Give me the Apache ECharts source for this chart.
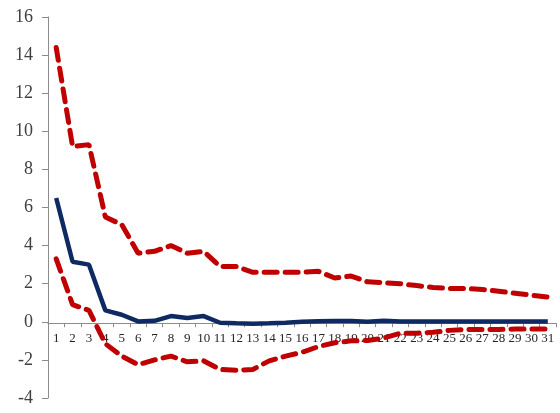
<!DOCTYPE html>
<html>
<head>
<meta charset="utf-8">
<script src="https://cdn.jsdelivr.net/npm/echarts@6/dist/echarts.min.js"></script>
<style>
  html, body { margin: 0; padding: 0; background: #fff; }
  #chart { width: 560px; height: 413px; }
</style>
</head>
<body>
<div id="chart"></div>
<script>
// Horizons 1..31
const periods = Array.from({ length: 31 }, (_, i) => String(i + 1));

// Point response
const response = [6.5, 3.15, 3.0, 0.6, 0.37, 0.02, 0.05, 0.3, 0.2, 0.3,
  -0.05, -0.08, -0.1, -0.08, -0.05, 0.0, 0.03, 0.04, 0.04, 0.0,
  0.05, 0.02, 0.02, 0.02, 0.02, 0.02, 0.02, 0.02, 0.02, 0.02, 0.02];

// Upper confidence band
const upperBand = [14.4, 9.2, 9.3, 5.5, 5.1, 3.6, 3.7, 4.0, 3.6, 3.7,
  2.9, 2.9, 2.6, 2.6, 2.6, 2.6, 2.65, 2.3, 2.4, 2.1,
  2.05, 2.0, 1.9, 1.8, 1.75, 1.75, 1.7, 1.6, 1.5, 1.4, 1.3];

// Lower confidence band
const lowerBand = [3.3, 0.9, 0.6, -1.15, -1.8, -2.25, -2.0, -1.8, -2.1, -2.05,
  -2.5, -2.55, -2.5, -2.05, -1.8, -1.6, -1.3, -1.1, -1.0, -0.98,
  -0.85, -0.6, -0.6, -0.55, -0.45, -0.4, -0.4, -0.4, -0.38, -0.38, -0.38];

// Value axis ticks
const yMin = -4, yMax = 16, yStep = 2;

const gridTop = 17, gridBottom = 15;

const chart = echarts.init(document.getElementById('chart'), null, { renderer: 'canvas' });

const bandStyle = { color: '#C00000', width: 5, type: [13, 8], cap: 'round' };

chart.setOption({
  animation: false,
  backgroundColor: '#ffffff',
  grid: { left: 48, right: 4, top: gridTop, bottom: gridBottom },
  xAxis: {
    type: 'category',
    data: periods,
    position: 'bottom',
    offset: 0,
    boundaryGap: true,
    axisLine: { onZero: false, lineStyle: { color: '#8c8c8c', width: 1 } },
    axisTick: { show: true, alignWithLabel: false, length: 4, lineStyle: { color: '#8c8c8c' } },
    axisLabel: {
      interval: 0, margin: 9,
      fontFamily: 'Liberation Serif, DejaVu Serif, serif',
      fontSize: 13, color: '#262626'
    },
    splitLine: { show: false }
  },
  yAxis: {
    type: 'value',
    min: yMin, max: yMax, interval: yStep,
    axisLine: { show: true, lineStyle: { color: '#8c8c8c', width: 1 } },
    axisTick: { show: true, length: 6, lineStyle: { color: '#8c8c8c' } },
    axisLabel: {
      margin: 15,
      fontFamily: 'Liberation Serif, DejaVu Serif, serif',
      fontSize: 18, color: '#404040'
    },
    splitLine: { show: false }
  },
  series: [
    {
      name: 'upper', type: 'line', data: upperBand,
      showSymbol: false, symbol: 'none', smooth: false,
      lineStyle: bandStyle, z: 3
    },
    {
      name: 'lower', type: 'line', data: lowerBand,
      showSymbol: false, symbol: 'none', smooth: false,
      lineStyle: bandStyle, z: 3
    },
    {
      name: 'response', type: 'line', data: response,
      showSymbol: false, symbol: 'none', smooth: false,
      lineStyle: { color: '#0F2A62', width: 4.5 }, z: 4
    }
  ]
});

// Lift the category axis (line, ticks and labels) up to the zero level
const zeroY = chart.convertToPixel({ yAxisIndex: 0 }, 0);
const bottomY = chart.convertToPixel({ yAxisIndex: 0 }, yMin);
chart.setOption({ xAxis: { offset: -(bottomY - zeroY) } });
</script>
</body>
</html>
